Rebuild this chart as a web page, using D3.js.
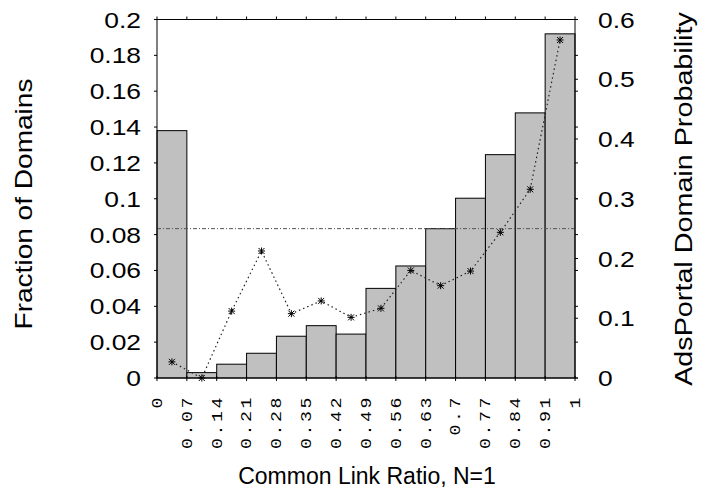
<!DOCTYPE html>
<html>
<head>
<meta charset="utf-8">
<script src="https://cdn.jsdelivr.net/npm/d3@7"></script>
<style>
  body { margin: 0; background: #fff; }
  text { font-family: "Liberation Sans", Arial, sans-serif; fill: #000; }
</style>
</head>
<body>
<div id="chart"></div>
<script>
// bin edges (tick labels) and values
var binEdges = ["0", "0.07", "0.14", "0.21", "0.28", "0.35", "0.42", "0.49", "0.56", "0.63", "0.7", "0.77", "0.84", "0.91", "1"];
var fractionOfDomains = [0.138, 0.003, 0.0077, 0.0138, 0.0233, 0.0292, 0.0245, 0.050, 0.0625, 0.0833, 0.1003, 0.1246, 0.1479, 0.192];
var adsPortalProb = [0.027, 0.0, 0.112, 0.2126, 0.1077, 0.129, 0.1015, 0.1166, 0.180, 0.1545, 0.179, 0.2438, 0.3158, 0.5657];
var referenceProb = 0.25;
var leftTicks = [0, 0.02, 0.04, 0.06, 0.08, 0.1, 0.12, 0.14, 0.16, 0.18, 0.2];
var rightTicks = [0, 0.1, 0.2, 0.3, 0.4, 0.5, 0.6];

var W = 706, H = 493,
    margin = {top: 19.5, right: 131, bottom: 115, left: 157},
    width = W - margin.left - margin.right,
    height = H - margin.top - margin.bottom;

var svg = d3.select("#chart").append("svg").attr("width", W).attr("height", H),
    g = svg.append("g").attr("transform", "translate(" + margin.left + "," + margin.top + ")");

var nBins = fractionOfDomains.length;
var x = d3.scaleLinear().domain([0, nBins]).range([0, width]);
var y = d3.scaleLinear().domain([0, 0.2]).range([height, 0]);
var y2 = d3.scaleLinear().domain([0, 0.6]).range([height, 0]);

// bars
g.selectAll("rect.bar")
    .data(fractionOfDomains)
    .enter().append("rect")
    .attr("class", "bar")
    .attr("x", function(d, i) { return x(i); })
    .attr("y", function(d) { return y(d); })
    .attr("width", x(1) - x(0))
    .attr("height", function(d) { return height - y(d); })
    .attr("fill", "#c0c0c0")
    .attr("stroke", "#000")
    .attr("stroke-width", 1);

// reference line
g.append("line")
    .attr("x1", 0).attr("x2", width)
    .attr("y1", y2(referenceProb)).attr("y2", y2(referenceProb))
    .attr("stroke", "#555")
    .attr("stroke-width", 1)
    .attr("stroke-dasharray", "4,2,1,2");

// probability line
var line = d3.line()
    .x(function(d, i) { return x(i + 0.5); })
    .y(function(d) { return y2(d); });

g.append("path")
    .datum(adsPortalProb)
    .attr("fill", "none")
    .attr("stroke", "#222")
    .attr("stroke-width", 1.2)
    .attr("stroke-dasharray", "1.5,3")
    .attr("d", line);

// asterisk markers
var star = g.selectAll("g.pt")
    .data(adsPortalProb)
    .enter().append("g")
    .attr("class", "pt")
    .attr("transform", function(d, i) { return "translate(" + x(i + 0.5) + "," + y2(d) + ")"; })
    .attr("stroke", "#000")
    .attr("stroke-width", 1);
star.append("path").attr("d", "M-3.5,0H3.5M0,-3.5V3.5M-3,-3L3,3M-3,3L3,-3");

// frame
g.append("rect")
    .attr("width", width).attr("height", height)
    .attr("fill", "none").attr("stroke", "#000").attr("stroke-width", 1);

// ticks
var tk = g.append("g").attr("stroke", "#000").attr("stroke-width", 1);
leftTicks.forEach(function(v) {
    tk.append("line").attr("x1", -3).attr("x2", 0).attr("y1", y(v)).attr("y2", y(v));
    tk.append("line").attr("x1", width).attr("x2", width + 3).attr("y1", y(v)).attr("y2", y(v));
});
rightTicks.forEach(function(v) {
    tk.append("line").attr("x1", width).attr("x2", width + 3).attr("y1", y2(v)).attr("y2", y2(v));
});
binEdges.forEach(function(s, i) {
    tk.append("line").attr("x1", x(i)).attr("x2", x(i)).attr("y1", height - 2).attr("y2", height + 3);
    tk.append("line").attr("x1", x(i)).attr("x2", x(i)).attr("y1", -3).attr("y2", 0);
});

// tick labels
var fs = 22, sx = 1.2;
leftTicks.forEach(function(v) {
    g.append("text")
        .attr("transform", "translate(-16," + (y(v) + 8) + ") scale(" + sx + ",1)")
        .attr("text-anchor", "end")
        .style("font-size", fs + "px")
        .text(d3.format("~g")(v));
});
rightTicks.forEach(function(v) {
    g.append("text")
        .attr("transform", "translate(" + (width + 23) + "," + (y2(v) + 8) + ") scale(" + sx + ",1)")
        .attr("text-anchor", "start")
        .style("font-size", fs + "px")
        .text(d3.format("~g")(v));
});
binEdges.forEach(function(s, i) {
    g.append("text")
        .attr("transform", "translate(" + x(i) + "," + (height + 17) + ") rotate(-90) scale(1.3,1)")
        .attr("text-anchor", "end")
        .attr("dy", "0.35em")
        .style("font-family", "'Liberation Mono', 'DejaVu Sans Mono', monospace")
        .style("font-size", "14px")
        .style("letter-spacing", "2px")
        .text(s);
});

// axis titles
svg.append("text")
    .attr("transform", "translate(32,204) rotate(-90) scale(1.22,1)")
    .attr("text-anchor", "middle")
    .style("font-size", "23px")
    .text("Fraction of Domains");

svg.append("text")
    .attr("transform", "translate(692,199) rotate(-90) scale(1.25,1)")
    .attr("text-anchor", "middle")
    .style("font-size", "23px")
    .text("AdsPortal Domain Probability");

svg.append("text")
    .attr("x", 367).attr("y", 484)
    .attr("text-anchor", "middle")
    .style("font-size", "23px")
    .text("Common Link Ratio, N=1");
</script>
</body>
</html>
